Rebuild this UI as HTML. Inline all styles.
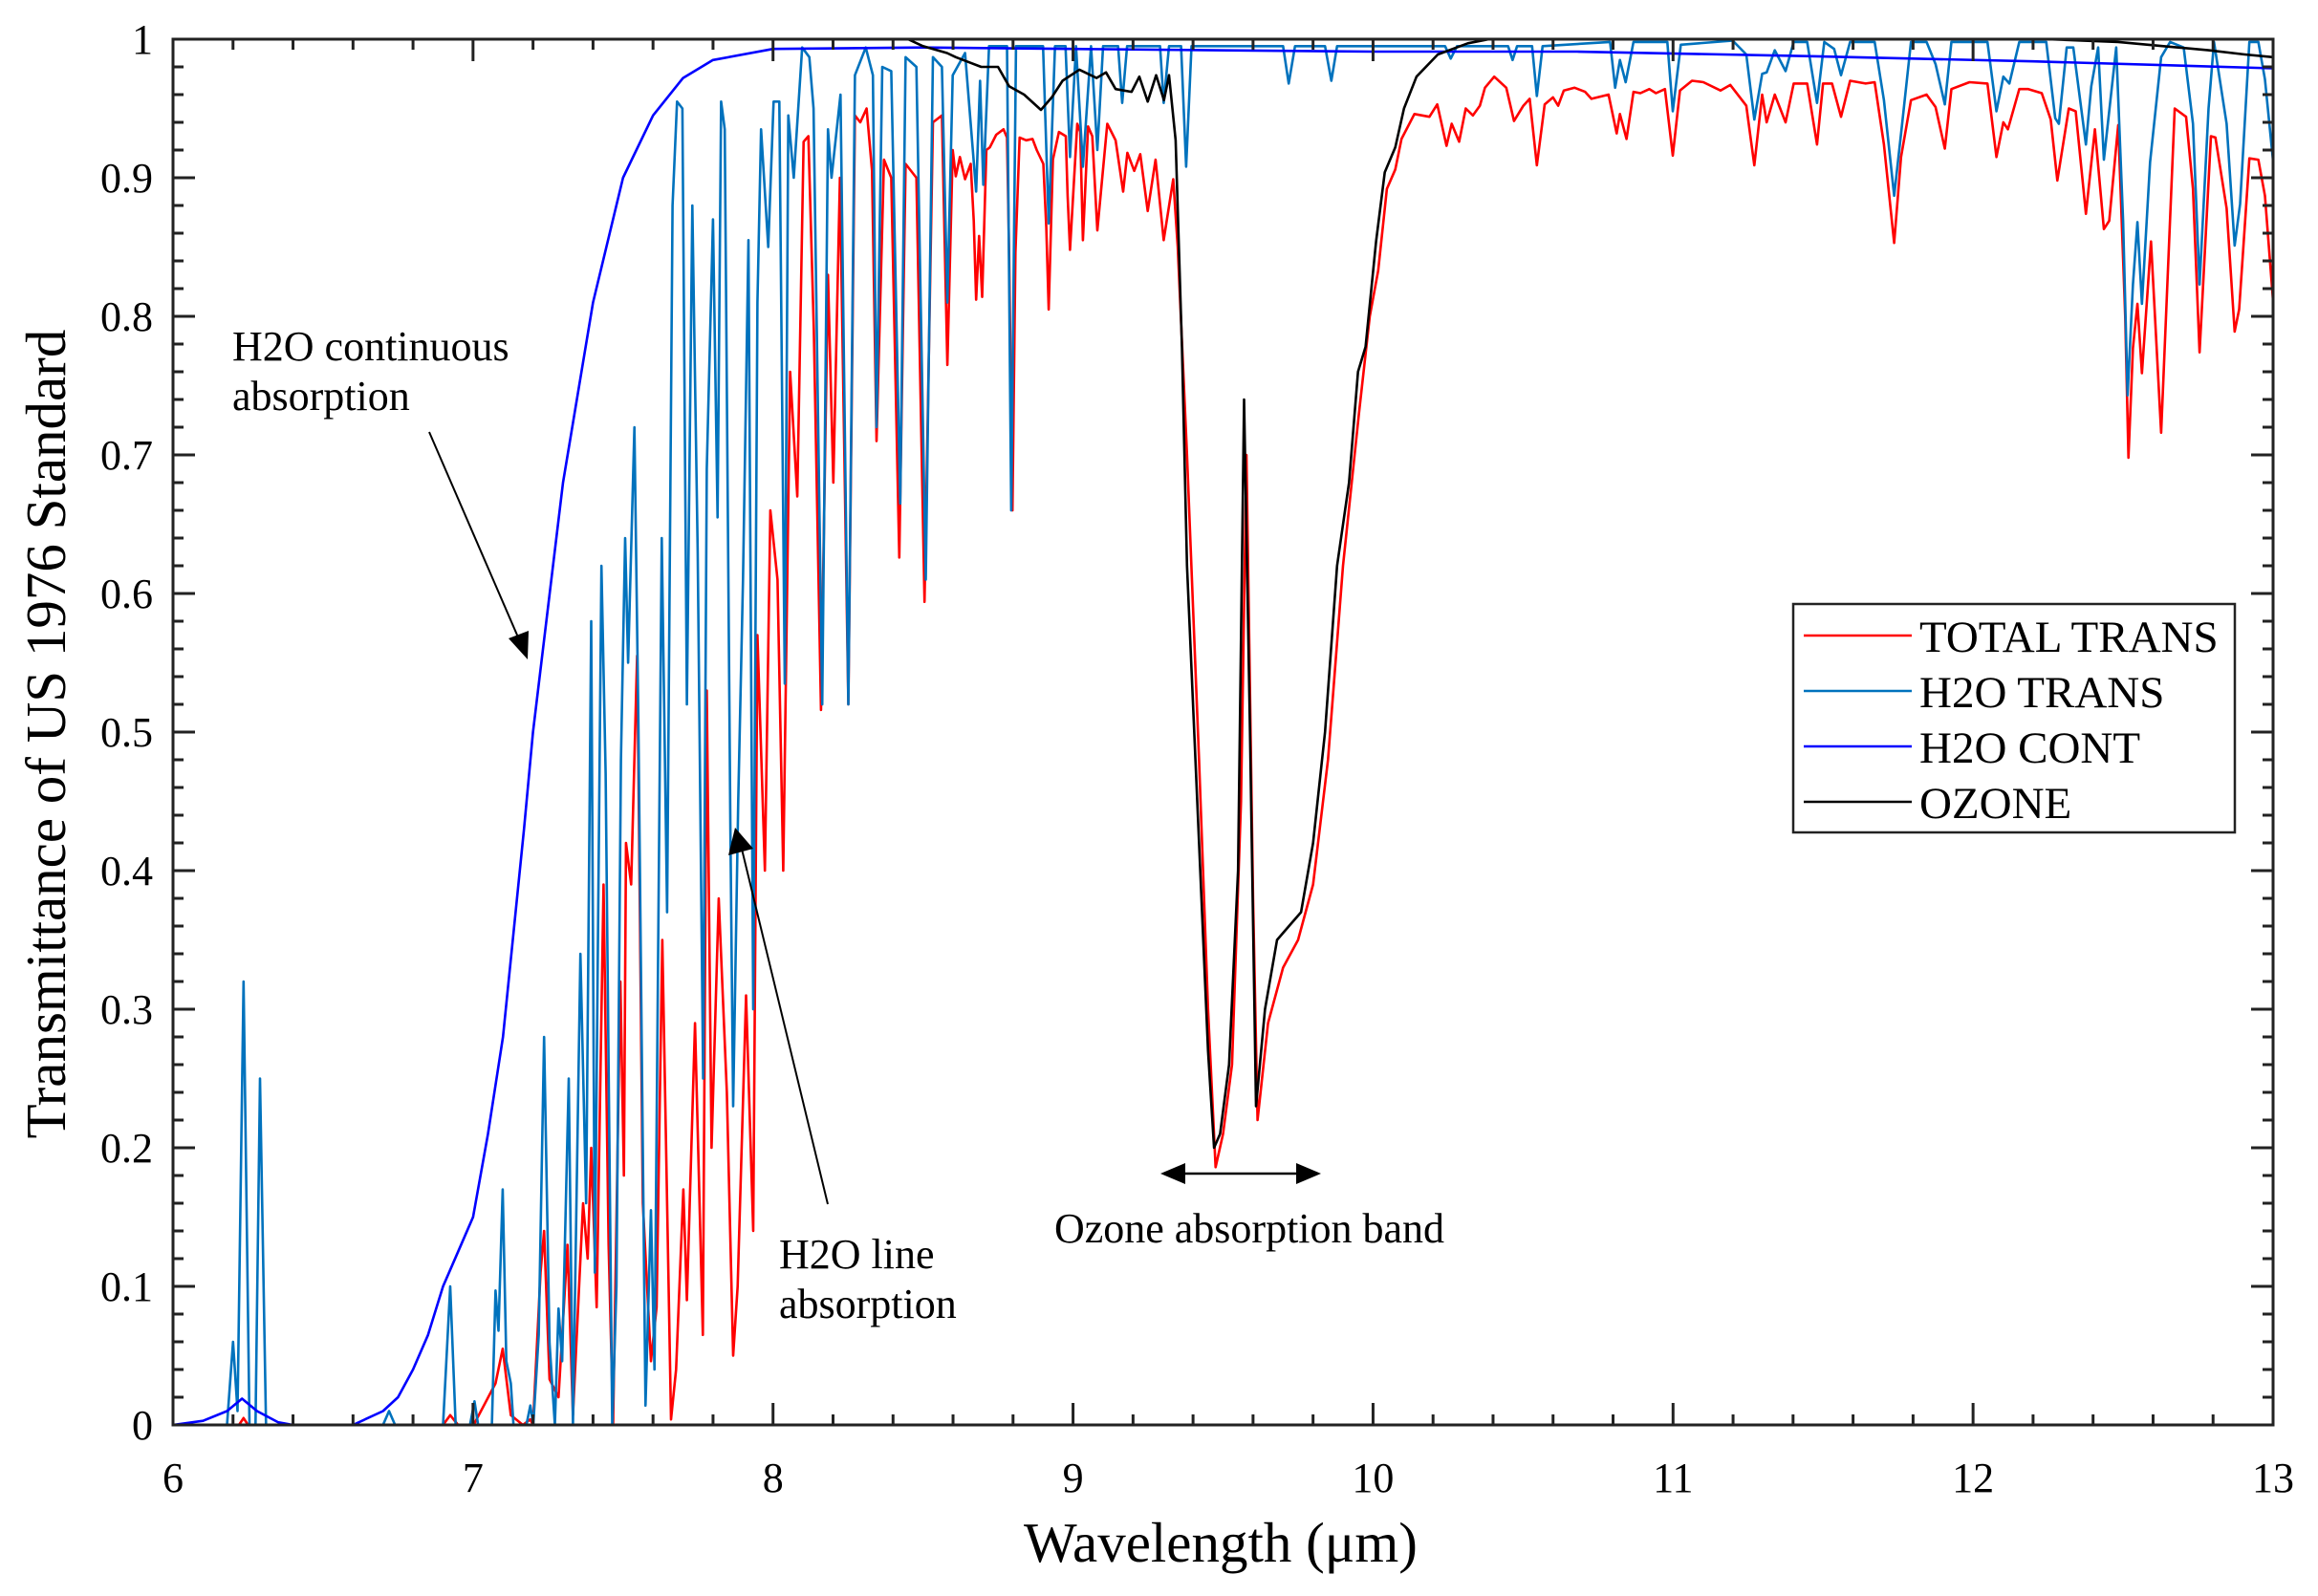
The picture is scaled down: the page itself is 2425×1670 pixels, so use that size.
<!DOCTYPE html>
<html><head><meta charset="utf-8"><style>
html,body{margin:0;padding:0;background:#fff;}
svg{display:block;}
text{font-family:"Liberation Serif","Times New Roman",serif;fill:#000;}
</style></head><body>
<svg id="chart" width="2425" height="1670" viewBox="0 0 2425 1670" xmlns="http://www.w3.org/2000/svg">
<rect x="0" y="0" width="2425" height="1670" fill="#fff"/>
<g id="series"></g>
<g id="axes"></g>
<text x="0" y="0" font-size="59" text-anchor="middle" transform="translate(68,768) rotate(-90)">Transmittance of US 1976 Standard</text>
<text x="1277" y="1634" font-size="59" text-anchor="middle">Wavelength (μm)</text>
<g>
<text x="243" y="377" font-size="44">H2O continuous</text>
<text x="243" y="429" font-size="44">absorption</text>
<line x1="449" y1="452" x2="546" y2="676" stroke="#000" stroke-width="2"/>
<polygon points="552,690 532,668 553,660" fill="#000"/>
</g>
<g>
<text x="815" y="1327" font-size="44">H2O line</text>
<text x="815" y="1379" font-size="44">absorption</text>
<line x1="866" y1="1260" x2="774" y2="880" stroke="#000" stroke-width="2"/>
<polygon points="769,866 762,895 788,888" fill="#000"/>
</g>
<g>
<line x1="1230" y1="1228" x2="1365" y2="1228" stroke="#000" stroke-width="2.5"/>
<polygon points="1214,1228 1240,1217 1240,1239" fill="#000"/>
<polygon points="1382,1228 1356,1217 1356,1239" fill="#000"/>
<text x="1307" y="1300" font-size="44" text-anchor="middle">Ozone absorption band</text>
</g>
<g>
<rect x="1876" y="632" width="462" height="239" fill="#fff" stroke="#222" stroke-width="2.5"/>
<g><line x1="1887" y1="665" x2="2000" y2="665" stroke="#ff0000" stroke-width="2.5"/><text x="2008" y="682" font-size="47">TOTAL TRANS</text></g>
<g><line x1="1887" y1="723" x2="2000" y2="723" stroke="#0072bd" stroke-width="2.5"/><text x="2008" y="740" font-size="47">H2O TRANS</text></g>
<g><line x1="1887" y1="781" x2="2000" y2="781" stroke="#0000ff" stroke-width="2.5"/><text x="2008" y="798" font-size="47">H2O CONT</text></g>
<g><line x1="1887" y1="839" x2="2000" y2="839" stroke="#000" stroke-width="2.5"/><text x="2008" y="856" font-size="47">OZONE</text></g>
</g>
</svg>
<script>
const xTicks=[6,7,8,9,10,11,12,13];
const yTicks=[0,0.1,0.2,0.3,0.4,0.5,0.6,0.7,0.8,0.9,1];
const yTickLabels=["0","0.1","0.2","0.3","0.4","0.5","0.6","0.7","0.8","0.9","1"];

const contX=[6,6.1,6.18,6.23,6.28,6.35,6.4,6.6,6.7,6.75,6.8,6.85,6.9,6.95,7.0,7.05,7.1,7.17,7.2,7.3,7.4,7.5,7.6,7.7,7.8,8.0,8.5,9,10,10.68,11.4,12.2,13];
const contY=[0,0.003,0.01,0.019,0.01,0.002,0,0,0.01,0.02,0.04,0.065,0.1,0.125,0.15,0.21,0.28,0.43,0.5,0.68,0.81,0.9,0.945,0.972,0.985,0.993,0.994,0.993,0.991,0.991,0.988,0.984,0.979];

const ozX=[6,8.45,8.5,8.58,8.609,8.694,8.75,8.787,8.837,8.893,8.929,8.965,9.021,9.078,9.11,9.142,9.195,9.221,9.249,9.277,9.303,9.32,9.342,9.363,9.38,9.42,9.45,9.47,9.49,9.52,9.55,9.57,9.59,9.61,9.64,9.68,9.72,9.76,9.8,9.84,9.88,9.92,9.95,9.975,10.01,10.039,10.074,10.103,10.145,10.216,10.316,10.387,12.244,12.484,12.635,12.785,12.906,13];
const ozY=[1,1,0.995,0.99,0.987,0.98,0.98,0.966,0.96,0.949,0.958,0.97,0.978,0.972,0.976,0.964,0.962,0.973,0.955,0.974,0.956,0.974,0.927,0.778,0.62,0.42,0.27,0.2,0.21,0.26,0.4,0.74,0.5,0.23,0.3,0.35,0.36,0.37,0.42,0.5,0.62,0.68,0.76,0.778,0.854,0.904,0.922,0.95,0.973,0.989,0.997,1,1,0.998,0.995,0.992,0.989,0.987];

const h2oX=[6,6.18,6.2,6.215,6.235,6.255,6.275,6.29,6.31,6.7,6.72,6.74,6.9,6.924,6.942,6.99,7.005,7.017,7.063,7.075,7.085,7.099,7.111,7.126,7.135,7.178,7.191,7.201,7.219,7.237,7.255,7.273,7.285,7.297,7.319,7.333,7.358,7.377,7.394,7.406,7.428,7.442,7.464,7.478,7.493,7.507,7.517,7.538,7.551,7.575,7.593,7.605,7.629,7.647,7.665,7.68,7.698,7.713,7.731,7.749,7.767,7.779,7.8,7.815,7.827,7.839,7.858,7.867,7.884,7.9,7.918,7.934,7.948,7.96,7.984,8.002,8.021,8.039,8.051,8.069,8.097,8.121,8.135,8.164,8.183,8.195,8.225,8.251,8.273,8.309,8.333,8.345,8.364,8.394,8.424,8.442,8.478,8.509,8.533,8.563,8.581,8.599,8.64,8.677,8.69,8.701,8.72,8.78,8.794,8.81,8.9,8.919,8.94,8.975,8.99,9.01,9.033,9.06,9.081,9.1,9.15,9.164,9.18,9.29,9.302,9.32,9.36,9.377,9.395,9.7,9.719,9.74,9.84,9.861,9.88,10.24,10.259,10.28,10.45,10.465,10.48,10.53,10.546,10.565,10.79,10.807,10.823,10.842,10.868,10.981,10.999,11.026,11.199,11.244,11.271,11.297,11.312,11.339,11.375,11.402,11.447,11.48,11.504,11.537,11.56,11.59,11.672,11.703,11.737,11.763,11.793,11.845,11.875,11.906,11.928,12.048,12.078,12.101,12.121,12.154,12.244,12.274,12.286,12.312,12.334,12.376,12.394,12.417,12.436,12.477,12.5,12.515,12.533,12.548,12.563,12.59,12.627,12.657,12.702,12.733,12.755,12.785,12.803,12.845,12.872,12.89,12.921,12.951,12.973,13];
const h2oY=[0,0,0.06,0.01,0.32,0,0,0.25,0,0,0.01,0,0,0.1,0,0,0.017,0,0,0.097,0.068,0.17,0.046,0.03,0,0,0.014,0,0.065,0.28,0.059,0,0.084,0.046,0.25,0,0.34,0.16,0.58,0.11,0.62,0.47,0,0.1,0.48,0.64,0.55,0.72,0.51,0.014,0.155,0.04,0.64,0.37,0.88,0.955,0.95,0.52,0.88,0.63,0.25,0.69,0.87,0.655,0.955,0.935,0.43,0.23,0.45,0.61,0.855,0.3,0.81,0.935,0.85,0.955,0.955,0.535,0.945,0.9,0.994,0.987,0.95,0.52,0.935,0.9,0.96,0.52,0.974,0.994,0.974,0.72,0.98,0.977,0.665,0.987,0.98,0.61,0.987,0.98,0.81,0.974,0.99,0.89,0.97,0.895,0.995,0.995,0.66,0.995,0.995,0.867,0.995,0.995,0.915,0.995,0.908,0.995,0.92,0.995,0.995,0.954,0.995,0.995,0.954,0.995,0.995,0.908,0.995,0.995,0.968,0.995,0.995,0.97,0.995,0.995,0.986,0.995,0.995,0.985,0.995,0.995,0.959,0.995,0.998,0.965,0.985,0.969,0.998,0.998,0.948,0.996,0.999,0.989,0.942,0.975,0.976,0.992,0.977,0.998,0.998,0.954,0.998,0.993,0.974,0.998,0.998,0.956,0.887,0.938,0.998,0.998,0.982,0.953,0.998,0.998,0.948,0.973,0.968,0.998,0.998,0.943,0.939,0.994,0.994,0.924,0.966,0.994,0.913,0.994,0.869,0.743,0.823,0.868,0.809,0.911,0.987,0.998,0.994,0.939,0.823,0.95,0.998,0.939,0.851,0.881,0.998,0.998,0.971,0.912];

const totX=[6,6.22,6.235,6.25,6.9,6.924,6.95,7.002,7.075,7.099,7.126,7.166,7.191,7.2,7.225,7.237,7.255,7.285,7.315,7.333,7.367,7.382,7.394,7.412,7.435,7.452,7.467,7.491,7.503,7.51,7.527,7.547,7.551,7.566,7.593,7.612,7.631,7.66,7.677,7.701,7.713,7.74,7.766,7.779,7.795,7.819,7.846,7.867,7.882,7.91,7.934,7.948,7.973,7.991,8.015,8.034,8.057,8.081,8.102,8.118,8.136,8.16,8.183,8.201,8.223,8.251,8.273,8.291,8.312,8.33,8.345,8.37,8.394,8.421,8.442,8.478,8.505,8.533,8.563,8.581,8.599,8.609,8.623,8.64,8.659,8.669,8.677,8.687,8.697,8.711,8.723,8.744,8.768,8.78,8.787,8.798,8.808,8.822,8.844,8.865,8.879,8.901,8.911,8.919,8.933,8.953,8.976,8.982,8.99,9.014,9.024,9.033,9.05,9.064,9.081,9.114,9.142,9.167,9.181,9.204,9.224,9.249,9.275,9.302,9.334,9.349,9.38,9.42,9.45,9.475,9.5,9.53,9.56,9.578,9.6,9.615,9.65,9.7,9.75,9.8,9.85,9.9,9.953,9.989,10.017,10.046,10.074,10.095,10.138,10.188,10.214,10.245,10.262,10.287,10.309,10.333,10.356,10.373,10.404,10.444,10.47,10.501,10.522,10.546,10.572,10.6,10.617,10.636,10.672,10.707,10.728,10.785,10.812,10.823,10.845,10.868,10.891,10.921,10.943,10.973,10.999,11.023,11.063,11.101,11.158,11.191,11.244,11.271,11.297,11.312,11.339,11.375,11.402,11.447,11.48,11.5,11.53,11.56,11.59,11.642,11.672,11.703,11.737,11.76,11.793,11.845,11.875,11.906,11.928,11.988,12.048,12.078,12.101,12.116,12.154,12.184,12.229,12.259,12.281,12.319,12.342,12.376,12.406,12.436,12.454,12.484,12.507,12.518,12.533,12.548,12.563,12.593,12.627,12.672,12.71,12.733,12.755,12.793,12.808,12.845,12.872,12.887,12.921,12.951,12.973,13];
const totY=[0,0,0.005,0,0,0.007,0,0,0.03,0.055,0.007,0,0.004,0,0.11,0.14,0.033,0.02,0.13,0.007,0.16,0.12,0.2,0.085,0.39,0.13,0,0.32,0.18,0.42,0.39,0.555,0.48,0.16,0.046,0.085,0.35,0.004,0.04,0.17,0.09,0.29,0.065,0.53,0.2,0.38,0.24,0.05,0.1,0.31,0.14,0.57,0.4,0.66,0.61,0.4,0.76,0.67,0.926,0.93,0.79,0.516,0.83,0.68,0.9,0.52,0.945,0.94,0.95,0.905,0.71,0.913,0.9,0.626,0.91,0.9,0.594,0.94,0.945,0.765,0.92,0.901,0.915,0.899,0.91,0.869,0.812,0.858,0.814,0.92,0.922,0.931,0.935,0.929,0.846,0.66,0.846,0.929,0.927,0.928,0.92,0.91,0.864,0.805,0.913,0.933,0.93,0.887,0.848,0.939,0.933,0.855,0.937,0.93,0.862,0.939,0.927,0.89,0.918,0.905,0.917,0.876,0.913,0.855,0.899,0.85,0.7,0.48,0.3,0.186,0.21,0.26,0.45,0.7,0.38,0.22,0.29,0.33,0.35,0.39,0.48,0.62,0.73,0.8,0.833,0.892,0.906,0.928,0.946,0.944,0.953,0.923,0.939,0.926,0.95,0.945,0.952,0.965,0.973,0.965,0.941,0.952,0.957,0.909,0.953,0.958,0.952,0.963,0.965,0.962,0.957,0.96,0.932,0.946,0.928,0.962,0.961,0.964,0.961,0.964,0.916,0.963,0.97,0.969,0.963,0.967,0.952,0.909,0.96,0.94,0.96,0.94,0.968,0.968,0.924,0.968,0.968,0.944,0.97,0.968,0.969,0.924,0.853,0.915,0.956,0.96,0.951,0.921,0.964,0.969,0.968,0.915,0.94,0.935,0.964,0.964,0.961,0.942,0.898,0.95,0.948,0.874,0.935,0.863,0.869,0.938,0.8,0.698,0.777,0.809,0.759,0.854,0.716,0.95,0.944,0.892,0.774,0.93,0.929,0.878,0.789,0.805,0.914,0.913,0.887,0.811];

const L=181,R=2378,T=41,B=1491,X0=6,X1=13;
function xs(v){return L+(v-X0)/(X1-X0)*(R-L);}
function ys(v){return B-v*(B-T);}
const NS="http://www.w3.org/2000/svg";
const sg=document.getElementById('series');
function addLine(xa,ya,color,name){
  const p=document.createElementNS(NS,'polyline');
  
  
  let pts=[];
  for(let i=0;i<xa.length;i++){pts.push(xs(xa[i]).toFixed(1)+','+ys(ya[i]).toFixed(1));}
  p.setAttribute('points',pts.join(' '));
  p.setAttribute('fill','none');p.setAttribute('stroke',color);
  p.setAttribute('stroke-width','2.6');p.setAttribute('stroke-linejoin','round');
  sg.appendChild(p);
}
addLine(totX,totY,'#ff0000','total-trans-line');
addLine(h2oX,h2oY,'#0072bd','h2o-trans-line');
addLine(contX,contY,'#0000ff','h2o-cont-line');
addLine(ozX,ozY,'#000000','ozone-line');

const ag=document.getElementById('axes');
function el(tag,attrs){const e=document.createElementNS(NS,tag);for(const k in attrs)e.setAttribute(k,attrs[k]);ag.appendChild(e);return e;}
const box=el('rect',{x:L,y:T,width:R-L,height:B-T,fill:'none',stroke:'#222','stroke-width':3});


for(let v=X0;v<=X1+1e-9;v+=0.2){
  const major=Math.abs(v-Math.round(v))<1e-6;
  const len=major?23:11;const x=xs(v);
  el('line',{x1:x,y1:B,x2:x,y2:B-len,stroke:'#222','stroke-width':3});
  el('line',{x1:x,y1:T,x2:x,y2:T+len,stroke:'#222','stroke-width':3});
}
xTicks.forEach(function(v){
  const t=el('text',{x:xs(v),y:1561,'font-size':44,'text-anchor':'middle'});
  
  
  t.textContent=String(v);
});
for(let i=0;i<=50;i++){
  const v=i*0.02;const major=i%5===0;const len=major?23:11;const y=ys(v);
  el('line',{x1:L,y1:y,x2:L+len,y2:y,stroke:'#222','stroke-width':3});
  el('line',{x1:R,y1:y,x2:R-len,y2:y,stroke:'#222','stroke-width':3});
}
yTicks.forEach(function(v,i){
  const t=el('text',{x:160,y:ys(v)+15,'font-size':44,'text-anchor':'end'});
  
  
  t.textContent=yTickLabels[i];
});
</script>
</body></html>
